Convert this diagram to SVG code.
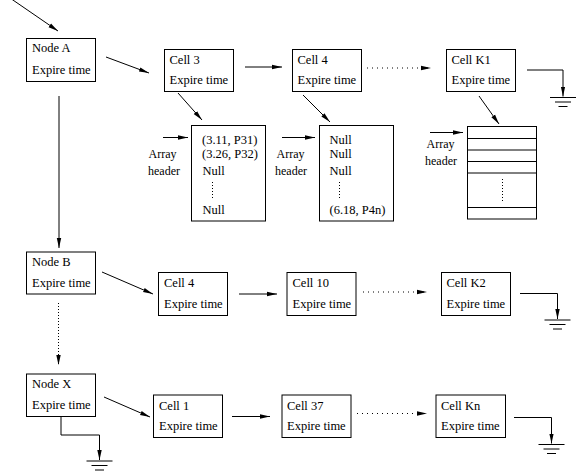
<svg xmlns="http://www.w3.org/2000/svg" width="585" height="475" viewBox="0 0 585 475">
<style>
rect.box{fill:#fff;stroke:#000;stroke-width:1}
text{font-family:"Liberation Serif","Times New Roman",serif;font-size:12.5px;fill:#000}
text.lbl{font-size:12px}
.c{fill:none;stroke:#000;stroke-width:1}
.arr{marker-end:url(#ah)}
.dot{stroke-dasharray:1 4}
.vdot{stroke-dasharray:1 2}
.g line{stroke:#000;stroke-width:1}
</style>
<defs>
<marker id="ah" markerUnits="userSpaceOnUse" markerWidth="11" markerHeight="6" refX="10" refY="3" orient="auto">
<path d="M0,0.8 L10,3 L0,5.2 z" fill="#000"/>
</marker>
<g id="ground" class="g">
<line x1="-13" y1="1" x2="13" y2="1"/>
<line x1="-8" y1="5.5" x2="8" y2="5.5"/>
<line x1="-4.5" y1="10" x2="4.5" y2="10"/>
</g>
</defs>
<rect width="585" height="475" fill="#fff"/>

<g id="connectors">
<line class="c arr" x1="10" y1="-2" x2="58" y2="31"/>
<line class="c arr" x1="106" y1="57" x2="149" y2="73"/>
<line class="c arr" x1="245" y1="67" x2="282" y2="67"/>
<line class="c arr dot" x1="367" y1="68" x2="431" y2="68"/>
<polyline class="c arr" points="527,70 563,70 563,96.5"/>
<use href="#ground" transform="translate(563,96.5)"/>
<line class="c arr" x1="178" y1="93" x2="202" y2="120"/>
<line class="c arr" x1="303" y1="95" x2="330" y2="122"/>
<line class="c arr" x1="479" y1="96" x2="499" y2="124"/>
<line class="c arr" x1="163" y1="137.5" x2="188" y2="137.5"/>
<line class="c arr" x1="282" y1="137.5" x2="315" y2="137.5"/>
<line class="c arr" x1="430" y1="132.5" x2="463" y2="132.5"/>
<line class="c arr" x1="59" y1="96" x2="59" y2="248"/>
<line class="c arr" x1="102" y1="272" x2="153" y2="294"/>
<line class="c arr" x1="239" y1="294" x2="277" y2="294"/>
<line class="c arr dot" x1="363" y1="292" x2="427" y2="292"/>
<polyline class="c arr" points="520,293.5 557.5,293.5 557.5,319"/>
<use href="#ground" transform="translate(557.5,319)"/>
<line class="c arr vdot" x1="58.5" y1="303" x2="58.5" y2="365"/>
<line class="c arr" x1="104" y1="397" x2="150" y2="417"/>
<line class="c arr" x1="232" y1="416.5" x2="270" y2="416.5"/>
<line class="c arr dot" x1="357" y1="413.5" x2="427" y2="413.5"/>
<polyline class="c arr" points="514,417.5 551.5,417.5 551.5,443.5"/>
<use href="#ground" transform="translate(551.5,443.5)"/>
<polyline class="c arr" points="61,417 61,435 99.5,435 99.5,460"/>
<use href="#ground" transform="translate(99.5,460)"/>
</g>

<g id="nodeA"><rect class="box" x="26.5" y="38.5" width="69" height="43"/><text x="32" y="52">Node A</text><text x="32" y="74">Expire time</text></g>
<g id="cell3"><rect class="box" x="164.5" y="49.5" width="69" height="42"/><text x="169.5" y="64">Cell 3</text><text x="169.5" y="84">Expire time</text></g>
<g id="cell4a"><rect class="box" x="292.5" y="49.5" width="69" height="42"/><text x="297.5" y="64">Cell 4</text><text x="297.5" y="84">Expire time</text></g>
<g id="cellK1"><rect class="box" x="446.5" y="49.5" width="69" height="42"/><text x="451.5" y="64">Cell K1</text><text x="451.5" y="84">Expire time</text></g>

<g id="array1"><rect class="box" x="191.5" y="125.5" width="74" height="95.5"/>
<text x="202" y="144">(3.11, P31)</text><text x="202" y="158">(3.26, P32)</text><text x="202.5" y="175">Null</text>
<line class="c vdot" x1="212.5" y1="182" x2="212.5" y2="199"/>
<text x="202.5" y="214">Null</text></g>
<g id="header1"><text class="lbl" x="148.5" y="158">Array</text><text class="lbl" x="148" y="175">header</text></g>

<g id="array2"><rect class="box" x="319.5" y="125.5" width="74" height="95.5"/>
<text x="329.5" y="144">Null</text><text x="329.5" y="158">Null</text><text x="329.5" y="175">Null</text>
<line class="c vdot" x1="339.5" y1="182" x2="339.5" y2="199"/>
<text x="329.5" y="214">(6.18, P4n)</text></g>
<g id="header2"><text class="lbl" x="276.5" y="158">Array</text><text class="lbl" x="275" y="175">header</text></g>

<g id="array3"><rect class="box" x="467.5" y="126.5" width="69" height="92.5"/>
<line class="c" x1="467.5" y1="138.5" x2="536.5" y2="138.5"/>
<line class="c" x1="467.5" y1="150" x2="536.5" y2="150"/>
<line class="c" x1="467.5" y1="161.5" x2="536.5" y2="161.5"/>
<line class="c" x1="467.5" y1="173" x2="536.5" y2="173"/>
<line class="c" x1="467.5" y1="207.5" x2="536.5" y2="207.5"/>
<line class="c vdot" x1="502.5" y1="179" x2="502.5" y2="202"/></g>
<g id="header3"><text class="lbl" x="426.5" y="148">Array</text><text class="lbl" x="425" y="165">header</text></g>

<g id="nodeB"><rect class="box" x="26.5" y="252" width="69" height="42"/><text x="32" y="265.5">Node B</text><text x="32" y="287">Expire time</text></g>
<g id="cell4b"><rect class="box" x="158.5" y="272.5" width="69" height="43"/><text x="164" y="287">Cell 4</text><text x="164" y="307.5">Expire time</text></g>
<g id="cell10"><rect class="box" x="287" y="272.5" width="69" height="43"/><text x="292.5" y="287">Cell 10</text><text x="292.5" y="307.5">Expire time</text></g>
<g id="cellK2"><rect class="box" x="441.5" y="272.5" width="69" height="43"/><text x="446.5" y="287">Cell K2</text><text x="446.5" y="307.5">Expire time</text></g>

<g id="nodeX"><rect class="box" x="26.5" y="374" width="69" height="42.5"/><text x="32" y="388">Node X</text><text x="32" y="409">Expire time</text></g>
<g id="cell1"><rect class="box" x="153.5" y="395" width="69" height="42.5"/><text x="159" y="409.5">Cell 1</text><text x="159" y="430">Expire time</text></g>
<g id="cell37"><rect class="box" x="282" y="395" width="69" height="42.5"/><text x="287" y="409.5">Cell 37</text><text x="287" y="430">Expire time</text></g>
<g id="cellKn"><rect class="box" x="436" y="395" width="69.5" height="42.5"/><text x="441" y="409.5">Cell Kn</text><text x="441" y="430">Expire time</text></g>
</svg>
